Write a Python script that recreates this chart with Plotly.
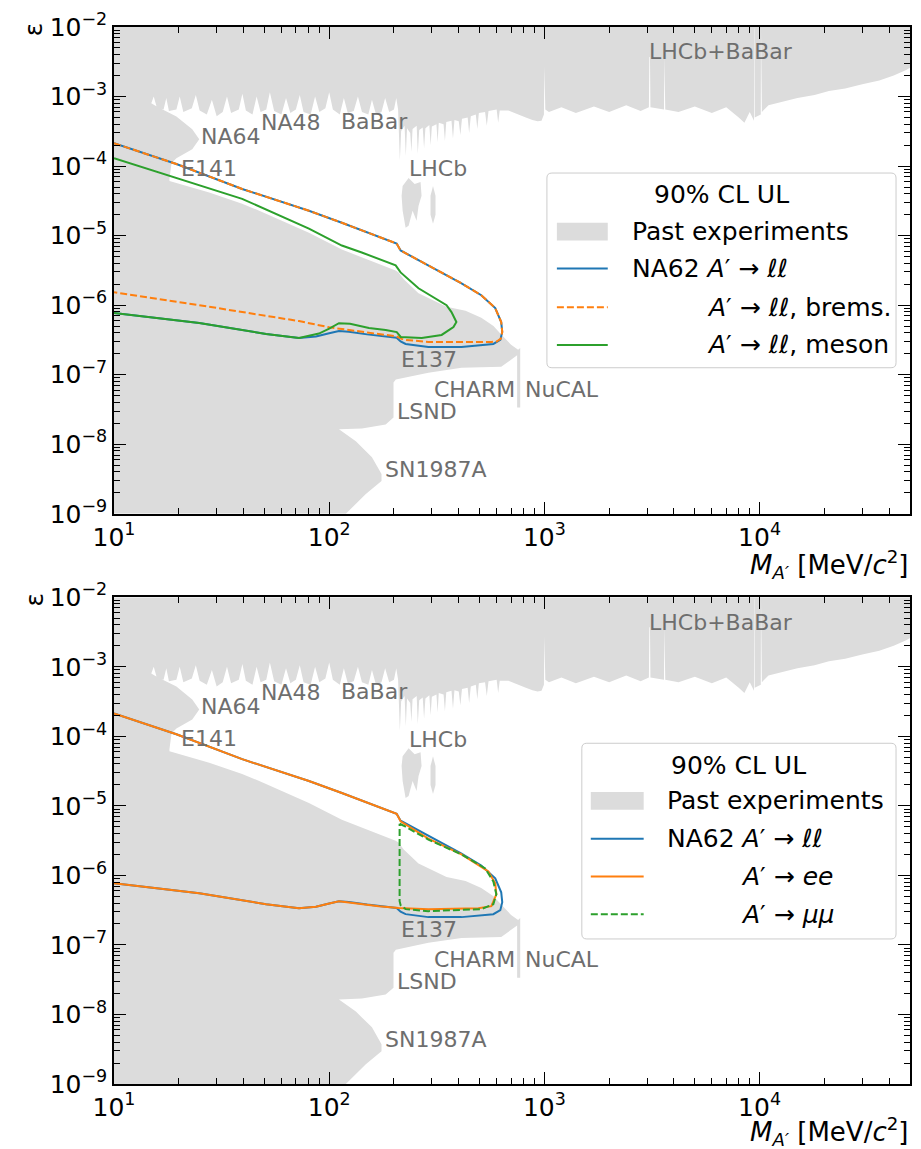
import numpy as np
import plotly.graph_objects as go

FONT = "DejaVu Sans"
GREY = "#dcdcdc"
LABEL_GREY = "#6e6e6e"
BLUE, ORANGE, GREEN = "#1f77b4", "#ff7f0e", "#2ca02c"

# ---------------- excluded region (past experiments) ----------------
# lower edge of the BaBar / NA48 / LHCb / LHCb+BaBar exclusion (left -> right)
edge_M = [14.9, 15.3, 15.8, 17.0, 17.5, 18.0, 19.5, 20.2, 21.0, 23.0, 24.0, 25.0, 27.0, 28.5, 30.0,
          32.0, 33.5, 35.0, 38.0, 39.5, 41.0, 44.0, 46.0, 48.0, 51.0, 53.0, 55.5, 60.0, 63.0, 66.0,
          70.0, 73.0, 76.0, 82.0, 86.0, 90.0, 96.0, 100.0, 104.0, 112.0, 117.0, 122.0, 130.0,
          136.0, 142.0, 152.0, 158.0, 165.0, 175.0, 182.0, 190.0, 200.0, 205.0, 209.0,
          210, 213, 216, 224, 227, 230, 238, 241, 244, 255, 258, 262, 272, 276, 280, 292, 296, 300,
          315, 319, 323, 340, 345, 350, 370, 376, 382, 400, 407, 414, 440, 447, 455, 480, 488, 496,
          530, 540, 550, 600, 610, 620, 680, 750, 820, 880, 930, 970, 995, 1000, 1010,
          1050, 1200, 1400, 1700, 2000, 2400, 2800, 3060, 3075, 3095, 3110, 3595, 3610, 3630, 3645,
          4200, 5000, 6000, 7000, 8000, 8500, 9000, 9420, 9440, 9470, 9490, 10130, 10150, 10230,
          10250, 11000, 13000, 15000, 18000, 21000, 25000, 30000, 36000, 42000, 48000, 50000]
edge_eps = [8.0e-4, 1.0e-3, 7.0e-4, 6.5e-4, 9.5e-4, 6.2e-4, 6.5e-4, 1.0e-3, 6.0e-4, 6.8e-4, 1.05e-3,
            6.3e-4, 5.5e-4, 9.0e-4, 5.2e-4,
            6.0e-4, 1.0e-3, 5.8e-4, 6.5e-4, 1.1e-3, 6.3e-4, 5.5e-4, 1.0e-3, 6.0e-4, 6.5e-4, 1.15e-3,
            6.2e-4, 5.5e-4, 9.5e-4, 5.8e-4,
            6.5e-4, 1.05e-3, 6.0e-4, 5.5e-4, 1.0e-3, 6.0e-4, 6.8e-4, 1.15e-3, 6.5e-4, 5.5e-4, 9.5e-4,
            5.8e-4, 6.2e-4,
            1.0e-3, 6.0e-4, 5.5e-4, 9.0e-4, 5.5e-4, 6.0e-4, 9.5e-4, 6.0e-4, 6.5e-4, 9.5e-4, 6.5e-4,
            3.5e-4, 1.2e-4, 3.2e-4, 3.8e-4, 1.4e-4, 3.5e-4, 3.0e-4, 1.6e-4, 3.4e-4, 3.8e-4, 1.5e-4,
            3.3e-4, 3.6e-4, 1.8e-4, 3.5e-4, 3.9e-4, 2.0e-4, 3.7e-4,
            4.0e-4, 2.2e-4, 4.2e-4, 4.0e-4, 2.3e-4, 4.3e-4, 4.5e-4, 2.5e-4, 4.6e-4, 4.4e-4, 2.8e-4,
            4.8e-4, 5.0e-4, 3.0e-4, 5.2e-4, 5.5e-4, 3.4e-4, 5.8e-4,
            6.0e-4, 3.8e-4, 6.2e-4, 6.5e-4, 4.2e-4, 6.3e-4, 6.3e-4, 5.6e-4, 5.0e-4, 4.6e-4, 4.4e-4,
            4.5e-4, 5.5e-4, 2.7e-3, 6.5e-4,
            6.0e-4, 7.0e-4, 5.8e-4, 7.2e-4, 6.0e-4, 7.5e-4, 6.2e-4, 7.0e-4, 3.7e-3, 3.7e-3, 7.0e-4,
            6.5e-4, 3.7e-3, 3.7e-3, 6.5e-4,
            6.0e-4, 7.2e-4, 5.8e-4, 7.0e-4, 5.0e-4, 4.2e-4, 6.0e-4, 4.5e-4, 9.5e-3, 9.5e-3, 5.0e-4,
            5.5e-4, 9.5e-3, 9.5e-3,
            6.0e-4, 7.5e-4, 8.5e-4, 9.5e-4, 1.05e-3, 1.2e-3, 1.3e-3, 1.5e-3, 1.7e-3, 2.0e-3, 2.4e-3,
            2.6e-3]

# NA64 boundary (from the BaBar edge down to E141)
na64_M = [15.8, 19.5, 23.1, 24.9, 23.1, 19.5, 18.5, 18.1]
na64_eps = [7.2e-4, 5.18e-4, 3.38e-4, 2.43e-4, 1.75e-4, 1.30e-4, 1.10e-4, 6.5e-5]

# beam-dump / supernova boundary: E141, E137, NuCAL, CHARM, LSND, SN1987A
dump_M = [18.1, 19.5, 27.7, 39.4, 47.3, 80.5, 114.5, 203.6, 210, 222, 260, 351, 430, 509, 580,
          630, 700, 755, 772, 772, 747, 747, 630, 412, 289, 204, 199, 199, 183, 142, 111, 133,
          158, 175, 175, 148, 123, 119.5]
dump_eps = [6.1e-5, 5.72e-5, 4.18e-5, 2.87e-5, 2.28e-5, 1.10e-5, 6.3e-6, 3.16e-6, 2.96e-6, 2.35e-6,
            1.48e-6, 9.5e-7, 8.3e-7, 6.6e-7, 5.0e-7, 3.8e-7, 2.7e-7, 2.28e-7, 2.43e-7, 3.38e-8,
            3.38e-8, 1.9e-7, 1.30e-7, 1.26e-7, 1.07e-7, 8.5e-8, 7.7e-8, 2.43e-8, 1.93e-8, 1.69e-8,
            1.64e-8, 1.10e-8, 6.52e-9, 3.73e-9, 2.96e-9, 1.93e-9, 1.10e-9, 1e-9]

# isolated LHCb islands
lhcb1_M = [219.4, 233.9, 249.4, 265.8, 268.7, 260.2, 254.7, 244.1, 233.9, 226.5, 219.4, 217.0, 219.4]
lhcb1_eps = [5.18e-5, 6.74e-5, 5.53e-5, 5.91e-5, 3.73e-5, 2.68e-5, 1.64e-5, 2.28e-5, 1.39e-5,
             1.30e-5, 2.28e-5, 3.73e-5, 5.18e-5]
lhcb2_M = [303.7, 311.9, 311.9, 303.7, 295.7, 295.7, 303.7]
lhcb2_eps = [5.18e-5, 3.73e-5, 2.0e-5, 1.48e-5, 2.0e-5, 3.73e-5, 5.18e-5]

# ---------------- NA62 upper limits ----------------
ll_M = [10, 19.5, 39.4, 80.5, 114.5, 205.8, 214.7, 289, 412, 509, 591, 630, 637, 624, 579, 412,
        289, 226.5, 214.7, 205.8, 170, 150, 123.4, 111, 100, 86.8, 72.4, 50.9, 24.9, 10]
ll_eps = [2.13e-4, 1.07e-4, 4.69e-5, 2.28e-5, 1.53e-5, 7.69e-6, 6.11e-6, 3.73e-6, 2.06e-6, 1.39e-6,
          9.06e-7, 5.72e-7, 4.11e-7, 3.16e-7, 2.77e-7, 2.51e-7, 2.51e-7, 2.77e-7, 3.0e-7, 3.4e-7,
          3.6e-7, 3.8e-7, 4.15e-7, 4.25e-7, 3.95e-7, 3.55e-7, 3.38e-7, 3.85e-7, 5.53e-7, 7.69e-7]

brems_M = [10, 19.5, 39.4, 80.5, 114.5, 205.8, 214.7, 289, 412, 509, 591, 630, 637, 628, 600, 567,
           289, 226.5, 217, 205.8, 100, 72.4, 24.9, 10]
brems_eps = [2.13e-4, 1.07e-4, 4.69e-5, 2.28e-5, 1.53e-5, 7.69e-6, 6.11e-6, 3.73e-6, 2.06e-6,
             1.39e-6, 9.06e-7, 5.72e-7, 4.11e-7, 3.3e-7, 3.0e-7, 2.96e-7, 2.96e-7, 3.16e-7, 3.27e-7,
             3.55e-7, 4.8e-7, 5.9e-7, 1.0e-6, 1.53e-6]

meson_M = [10, 19.5, 39.4, 80.5, 114.5, 141.7, 203.6, 214.7, 260, 351, 370, 390, 378, 333, 269,
           215, 206, 183, 153, 125, 111, 100, 89.6, 72.4, 50.9, 24.9, 10]
meson_eps = [1.30e-4, 6.74e-5, 3.38e-5, 1.26e-5, 7.2e-6, 5.72e-6, 3.73e-6, 2.96e-6, 1.75e-6, 1.0e-6,
             7.94e-7, 5.72e-7, 4.85e-7, 3.73e-7, 3.38e-7, 3.49e-7, 4.1e-7, 4.4e-7, 4.7e-7, 5.4e-7,
             5.5e-7, 4.6e-7, 3.9e-7, 3.38e-7, 3.85e-7, 5.53e-7, 7.69e-7]

ee_M = [10, 19.5, 39.4, 80.5, 114.5, 205.8, 214.7, 289, 412, 549, 591, 598, 567, 493, 289, 226.5,
        210, 170, 150, 123.4, 111, 100, 86.8, 72.4, 50.9, 24.9, 10]
ee_eps = [2.13e-4, 1.07e-4, 4.69e-5, 2.28e-5, 1.53e-5, 7.69e-6, 6.0e-6, 3.38e-6, 2.0e-6, 1.14e-6,
          7.69e-7, 5.35e-7, 3.61e-7, 3.38e-7, 3.27e-7, 3.38e-7, 3.4e-7, 3.6e-7, 3.8e-7, 4.15e-7,
          4.25e-7, 3.95e-7, 3.55e-7, 3.38e-7, 3.85e-7, 5.53e-7, 7.69e-7]

mumu_M = [212.4, 226.5, 289, 412, 531, 579, 598, 579, 509, 289, 226.5, 214.7, 212.4, 212.4]
mumu_eps = [5.53e-6, 5.01e-6, 3.27e-6, 2.0e-6, 1.26e-6, 8.2e-7, 5.35e-7, 3.85e-7, 3.27e-7, 3.06e-7,
            3.27e-7, 3.73e-7, 4.25e-7, 5.53e-6]

# region labels
label_text = ["NA64", "NA48", "BaBar", "E141", "LHCb", "LHCb+BaBar", "E137", "CHARM", "NuCAL",
              "LSND", "SN1987A"]
label_M = [24.9, 47.3, 111, 20.1, 230, 2990, 212, 299, 797, 202, 178]
label_eps = [2.7e-4, 4.3e-4, 4.4e-4, 9.3e-5, 9.1e-5, 4.4e-3, 1.64e-7, 6.1e-8, 6.1e-8, 2.96e-8, 4.4e-9]

# axes ticks
x_major = [10, 100, 1000, 10000]
x_major_text = ["10<sup>1</sup>", "10<sup>2</sup>", "10<sup>3</sup>", "10<sup>4</sup>"]
y_major = [1e-9, 1e-8, 1e-7, 1e-6, 1e-5, 1e-4, 1e-3, 1e-2]
y_major_text = ["10<sup>\u2212%d</sup>" % k for k in [9, 8, 7, 6, 5, 4, 3, 2]]
x_minor = [k * 10 ** d for d in [1, 2, 3] for k in range(2, 10)] + [20000, 30000, 40000]
y_minor = [k * 10.0 ** d for d in range(-9, -2) for k in range(2, 10)]

# ---------------- figure ----------------
W, H = 921, 1149
L, R, T, B = 114, 9, 20, 65
PW, PH = W - L - R, H - T - B

def px(xp):
    return (xp - L) / PW

def py(yp):
    return (H - B - yp) / PH

poly_M = [10, 5e4] + edge_M[::-1] + na64_M + dump_M + [10]
poly_eps = [1e-2, 1e-2] + edge_eps[::-1] + na64_eps + dump_eps + [1e-9]

fig = go.Figure()
panels = [("x", "y"), ("x2", "y2")]
for xa, ya in panels:
    for mx, my in [(poly_M, poly_eps), (lhcb1_M, lhcb1_eps), (lhcb2_M, lhcb2_eps)]:
        fig.add_trace(go.Scatter(x=mx, y=my, fill="toself", fillcolor=GREY, mode="lines",
                                 line=dict(width=0, color=GREY), xaxis=xa, yaxis=ya,
                                 hoverinfo="skip", showlegend=False))

# top panel lines
fig.add_trace(go.Scatter(x=ll_M, y=ll_eps, mode="lines", line=dict(color=BLUE, width=2),
                         name="NA62 A'->ll", xaxis="x", yaxis="y", showlegend=False))
fig.add_trace(go.Scatter(x=brems_M, y=brems_eps, mode="lines",
                         line=dict(color=ORANGE, width=2, dash="7px,3px"),
                         name="A'->ll, brems.", xaxis="x", yaxis="y", showlegend=False))
fig.add_trace(go.Scatter(x=meson_M, y=meson_eps, mode="lines", line=dict(color=GREEN, width=2),
                         name="A'->ll, meson", xaxis="x", yaxis="y", showlegend=False))
# bottom panel lines
fig.add_trace(go.Scatter(x=ll_M, y=ll_eps, mode="lines", line=dict(color=BLUE, width=2),
                         name="NA62 A'->ll", xaxis="x2", yaxis="y2", showlegend=False))
fig.add_trace(go.Scatter(x=ee_M, y=ee_eps, mode="lines", line=dict(color=ORANGE, width=2),
                         name="A'->ee", xaxis="x2", yaxis="y2", showlegend=False))
fig.add_trace(go.Scatter(x=mumu_M, y=mumu_eps, mode="lines",
                         line=dict(color=GREEN, width=2, dash="7px,3px"),
                         name="A'->mumu", xaxis="x2", yaxis="y2", showlegend=False))

tickfont = dict(family=FONT, size=25, color="black")
def xaxis_cfg(anchor):
    return dict(type="log", range=[1, np.log10(5e4)], domain=[0, 1], anchor=anchor,
                showline=True, linecolor="black", linewidth=1.5, mirror="ticks",
                ticks="inside", ticklen=12, tickwidth=1.2, tickcolor="black",
                tickvals=x_major, ticktext=x_major_text, tickfont=tickfont,
                showgrid=False, zeroline=False,
                minor=dict(tickvals=x_minor, ticks="inside", ticklen=6, tickwidth=1,
                           tickcolor="black", showgrid=False))

def yaxis_cfg(anchor, dom):
    return dict(type="log", range=[-9, -2], domain=dom, anchor=anchor,
                showline=True, linecolor="black", linewidth=1.5, mirror="ticks",
                ticks="inside", ticklen=12, tickwidth=1.2, tickcolor="black",
                tickvals=y_major, ticktext=y_major_text, tickfont=tickfont,
                showgrid=False, zeroline=False,
                minor=dict(tickvals=y_minor, ticks="inside", ticklen=6, tickwidth=1,
                           tickcolor="black", showgrid=False))

top_dom = [py(510), 1]
bot_dom = [0, py(594)]

annotations = []
shapes = []

# region labels in both panels
for xr, yr in [("x", "y"), ("x2", "y2")]:
    for t, m, e in zip(label_text, label_M, label_eps):
        annotations.append(dict(x=np.log10(m), y=np.log10(e), xref=xr, yref=yr, text=t,
                                showarrow=False, xanchor="left", yanchor="middle",
                                font=dict(family=FONT, size=22, color=LABEL_GREY)))

# axis titles
xtitle = "<i>M</i><sub><i>A\u2032</i></sub> [MeV/<i>c</i><sup>2</sup>]"
for yc in [561, 1132]:
    annotations.append(dict(x=1.0, y=py(yc), xref="paper", yref="paper", text=xtitle,
                            showarrow=False, xanchor="right", yanchor="middle",
                            font=dict(family=FONT, size=26, color="black")))
for yc in [22, 596]:
    annotations.append(dict(x=px(34), y=py(yc), xref="paper", yref="paper", text="\u03b5",
                            textangle=-90, showarrow=False, xanchor="center", yanchor="middle",
                            font=dict(family=FONT, size=25, color="black")))

def rounded_box(x0, y0, x1, y1, r=5):
    pts = lambda a, b: "%.5f,%.5f" % (px(a), py(b))
    return ("M " + pts(x0 + r, y0) + " L " + pts(x1 - r, y0) + " Q " + pts(x1, y0) + " " + pts(x1, y0 + r)
            + " L " + pts(x1, y1 - r) + " Q " + pts(x1, y1) + " " + pts(x1 - r, y1)
            + " L " + pts(x0 + r, y1) + " Q " + pts(x0, y1) + " " + pts(x0, y1 - r)
            + " L " + pts(x0, y0 + r) + " Q " + pts(x0, y0) + " " + pts(x0 + r, y0) + " Z")

def legend(box, title_xy, patch, sym_x, rows):
    shapes.append(dict(type="path", path=rounded_box(*box), xref="paper", yref="paper",
                       fillcolor="rgba(255,255,255,0.85)", line=dict(color="#cccccc", width=1)))
    annotations.append(dict(x=px(title_xy[0]), y=py(title_xy[1]), xref="paper", yref="paper",
                            text="90% CL UL", showarrow=False, xanchor="center", yanchor="middle",
                            font=dict(family=FONT, size=25, color="black")))
    shapes.append(dict(type="rect", xref="paper", yref="paper", x0=px(patch[0]), x1=px(patch[1]),
                       y0=py(patch[2]), y1=py(patch[3]), fillcolor=GREY, line=dict(width=0)))
    for text, tx, ty, color, dash in rows:
        if color is not None:
            shapes.append(dict(type="line", xref="paper", yref="paper", x0=px(sym_x[0]),
                               x1=px(sym_x[1]), y0=py(ty), y1=py(ty),
                               line=dict(color=color, width=2, dash=dash)))
        annotations.append(dict(x=px(tx), y=py(ty), xref="paper", yref="paper", text=text,
                                showarrow=False, xanchor="left", yanchor="middle",
                                font=dict(family=FONT, size=25, color="black")))

ll_txt = "NA62 <i>A</i>\u2032 \u2192 <i>\u2113\u2113</i>"
legend((548, 167, 898, 363), (723, 189), (558, 609, 217, 235), (558, 609),
       [("Past experiments", 631, 226, None, None),
        (ll_txt, 631, 263, BLUE, "solid"),
        ("<i>A</i>\u2032 \u2192 <i>\u2113\u2113</i>, brems.", 706, 302, ORANGE, "7px,3px"),
        ("<i>A</i>\u2032 \u2192 <i>\u2113\u2113</i>, meson", 706, 340, GREEN, "solid")])
legend((583, 741, 898, 938), (740, 763), (592, 645, 790, 808), (592, 645),
       [("Past experiments", 666, 799, None, None),
        (ll_txt, 666, 837, BLUE, "solid"),
        ("<i>A</i>\u2032 \u2192 <i>ee</i>", 741, 875, ORANGE, "solid"),
        ("<i>A</i>\u2032 \u2192 <i>\u03bc\u03bc</i>", 741, 913, GREEN, "7px,3px")])

fig.update_layout(
    width=W, height=H,
    margin=dict(l=L, r=R, t=T, b=B),
    paper_bgcolor="white", plot_bgcolor="white",
    font=dict(family=FONT, size=25, color="black"),
    xaxis=xaxis_cfg("y"), yaxis=yaxis_cfg("x", top_dom),
    xaxis2=xaxis_cfg("y2"), yaxis2=yaxis_cfg("x2", bot_dom),
    annotations=annotations, shapes=shapes,
    showlegend=False,
)

fig.write_html("out.html")
